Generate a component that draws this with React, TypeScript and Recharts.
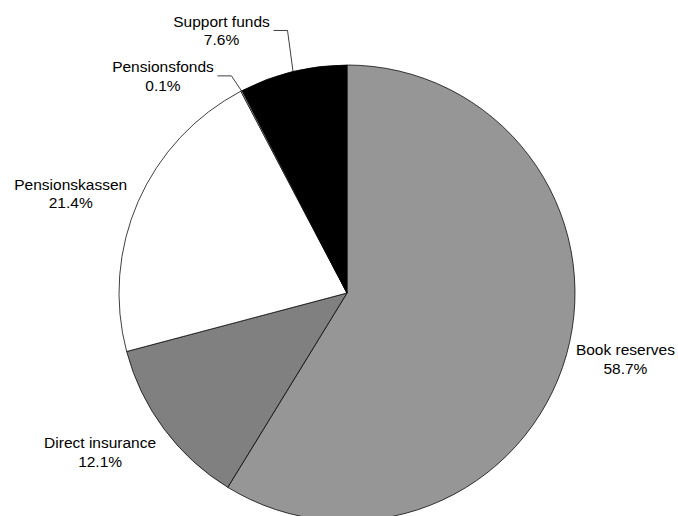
import React from 'react';
import { PieChart, Pie, Cell } from 'recharts';

const categories = ['Book reserves', 'Direct insurance', 'Pensionskassen', 'Pensionsfonds', 'Support funds'];
const shares = [58.7, 12.1, 21.4, 0.1, 7.6];
const colors = ['#969696', '#808080', '#ffffff', '#c0c0c0', '#000000'];

// label placement relative to the slice's outer edge point (layout only)
const labelLayout = [
  { dx: 59, dy: 4 },
  { dx: -64, dy: 23 },
  { dx: -67.5, dy: -8 },
  { dx: -78.5, dy: -15, elbow: -10 },
  { dx: -71.5, dy: -41, elbow: -5.5 },
];

const data = categories.map((name, i) => ({ name, value: shares[i] }));

const RAD = Math.PI / 180;
const FONT = '"Liberation Sans", Arial, sans-serif';

const renderLabel = (props: any) => {
  const { cx, cy, midAngle, outerRadius, index, value, name } = props;
  const ex = cx + outerRadius * Math.cos(-midAngle * RAD);
  const ey = cy + outerRadius * Math.sin(-midAngle * RAD);
  const l = labelLayout[index];
  const lx = ex + l.dx;
  const ly = ey + l.dy;
  let leader = null;
  if (l.elbow !== undefined) {
    const bx = ex + l.elbow;
    leader = (
      <polyline
        points={`${ex},${ey} ${bx},${ly} ${bx - 14},${ly}`}
        fill="none"
        stroke="#000"
        strokeWidth={0.75}
      />
    );
  }
  return (
    <g key={`lbl-${index}`}>
      {leader}
      <text x={lx} y={ly - 9.2} textAnchor="middle" dominantBaseline="central" fontFamily={FONT} fontSize={15.5} fill="#000">
        {name}
      </text>
      <text x={lx} y={ly + 9.2} textAnchor="middle" dominantBaseline="central" fontFamily={FONT} fontSize={15.5} fill="#000">
        {value.toFixed(1)}%
      </text>
    </g>
  );
};

const App: React.FC = () => {
  return (
    <div style={{ width: 678, height: 516, background: '#fff', overflow: 'hidden' }}>
      <style>{'body{margin:0}'}</style>
      <PieChart width={678} height={516} margin={{ top: 0, right: 0, bottom: 0, left: 0 }}>
        <Pie
          data={data}
          dataKey="value"
          nameKey="name"
          cx={347}
          cy={293}
          outerRadius={228}
          startAngle={90}
          endAngle={-270}
          stroke="#000"
          strokeWidth={0.75}
          label={renderLabel}
          labelLine={false}
          isAnimationActive={false}
        >
          {data.map((entry, index) => (
            <Cell key={`cell-${index}`} fill={colors[index]} />
          ))}
        </Pie>
      </PieChart>
    </div>
  );
};

export default App;
